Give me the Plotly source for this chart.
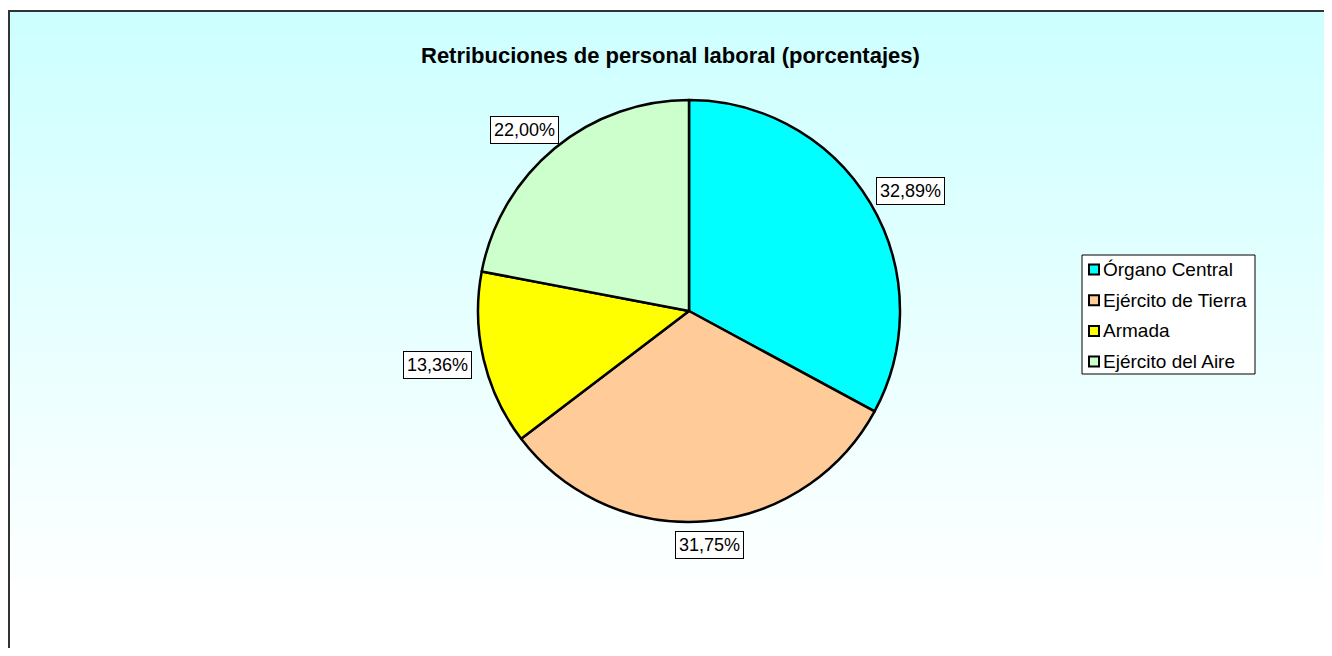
import math
import plotly.graph_objects as go

# the page body has an 8px margin; the figure is sized to fit inside the window
OFF = 8
W, H = 1332 - 2 * OFF, 656 - 2 * OFF

categories = ["Órgano Central", "Ejército de Tierra", "Armada", "Ejército del Aire"]
values = [32.89, 31.75, 13.36, 22.00]
label_texts = ["32,89%", "31,75%", "13,36%", "22,00%"]
colors = ["#00FFFF", "#FFCC99", "#FFFF00", "#CCFFCC"]
title_text = "Retribuciones de personal laboral (porcentajes)"

FONT = "Liberation Sans, Arial, sans-serif"


def px(x):
    return (x - OFF) / W


def py(y):
    return 1 - (y - OFF) / H


# pie geometry (window pixels)
cx, cy, r = 689, 311, 211

fig = go.Figure()
fig.add_trace(go.Pie(
    labels=categories,
    values=values,
    sort=False,
    direction="clockwise",
    rotation=0,
    marker=dict(colors=colors, line=dict(color="black", width=2.5)),
    textinfo="none",
    showlegend=False,
    domain=dict(x=[px(cx - r), px(cx + r)], y=[py(cy + r), py(cy - r)]),
))

shapes = []
# background gradient (cyan to white, top to bottom)
top, bottom = 11, 600
n = 90
for i in range(n):
    y0 = top + (bottom - top) * i / n
    y1 = top + (bottom - top) * (i + 1) / n + 0.6
    t = (i + 0.5) / n
    g = round(204 + (255 - 204) * t)
    shapes.append(dict(type="rect", xref="paper", yref="paper", layer="below",
                       x0=px(8), x1=1, y0=max(0, py(y1)), y1=py(y0),
                       fillcolor=f"rgb({g},255,255)", line=dict(width=0)))
# chart frame (only top and left edges are visible in the window)
shapes.append(dict(type="line", xref="paper", yref="paper", layer="above",
                   x0=px(8), x1=1, y0=py(11), y1=py(11),
                   line=dict(color="#333333", width=2)))
shapes.append(dict(type="line", xref="paper", yref="paper", layer="above",
                   x0=px(9), x1=px(9), y0=py(10), y1=0,
                   line=dict(color="#333333", width=2)))

annotations = []
annotations.append(dict(text="<b>" + title_text + "</b>", xref="paper", yref="paper",
                        x=px(670), y=py(56), xanchor="center", yanchor="middle",
                        showarrow=False, font=dict(family=FONT, size=22, color="black")))

# data labels placed outside slices (centres on an ellipse around the pie)
total = sum(values)
cum = 0.0
BW, BH = 66, 28
A = r + 14 + BW / 2
B = r + 10 + BH / 2
for v, txt in zip(values, label_texts):
    mid = (cum + v / 2) / total * 2 * math.pi
    cum += v
    s, c = math.sin(mid), math.cos(mid)
    bx = cx + A * s
    by = cy - B * c
    annotations.append(dict(text=txt, xref="paper", yref="paper",
                            x=px(bx), y=py(by), xanchor="center", yanchor="middle",
                            showarrow=False, bgcolor="white", bordercolor="black",
                            borderwidth=1, borderpad=3,
                            font=dict(family=FONT, size=18, color="black")))

# manual legend
lx0, lx1, ly0, ly1 = 1082, 1255, 255, 374
shapes.append(dict(type="rect", xref="paper", yref="paper", layer="above",
                   x0=px(lx0), x1=px(lx1), y0=py(ly1), y1=py(ly0),
                   fillcolor="white", line=dict(color="black", width=1)))
first_y, step = 269.5, 30.7
for i, (cat, col) in enumerate(zip(categories, colors)):
    yc = first_y + i * step
    shapes.append(dict(type="rect", xref="paper", yref="paper", layer="above",
                       x0=px(1089), x1=px(1099), y0=py(yc + 5), y1=py(yc - 5),
                       fillcolor=col, line=dict(color="black", width=2)))
    annotations.append(dict(text=cat, xref="paper", yref="paper",
                            x=px(1101), y=py(yc), xanchor="left", yanchor="middle",
                            showarrow=False,
                            font=dict(family=FONT, size=19, color="black")))

fig.update_layout(
    width=W, height=H, autosize=False,
    margin=dict(l=0, r=0, t=0, b=0),
    paper_bgcolor="white",
    plot_bgcolor="white",
    shapes=shapes,
    annotations=annotations,
    showlegend=False,
)

fig.write_html("out.html")
